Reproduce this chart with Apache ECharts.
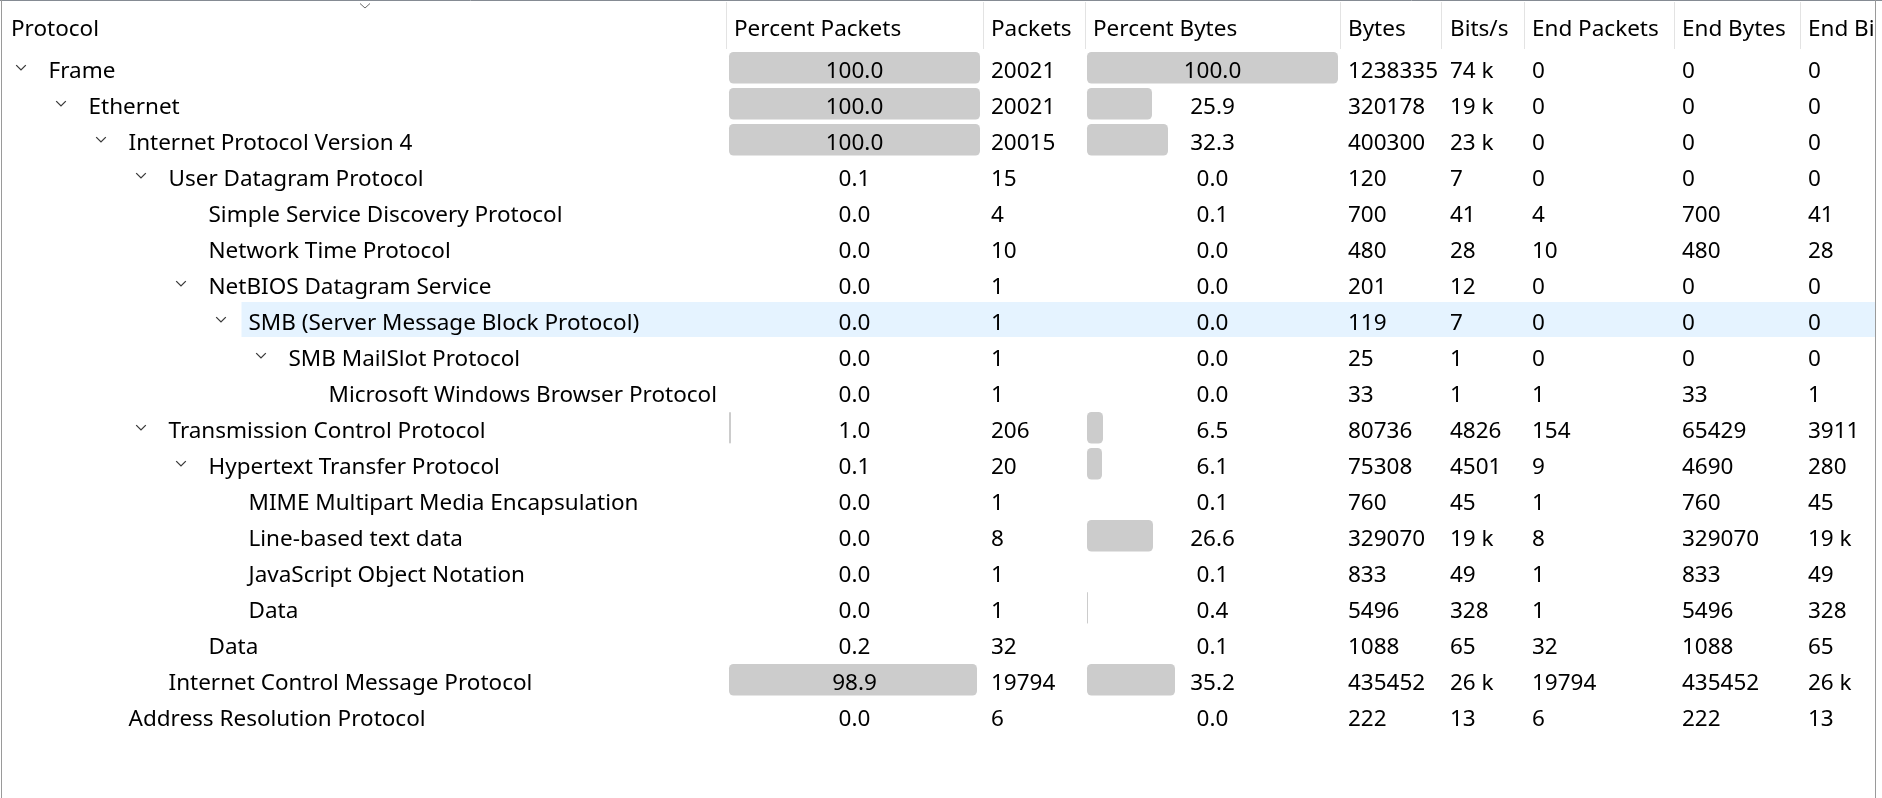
<!DOCTYPE html>
<html><head><meta charset="utf-8">
<script src="https://cdn.jsdelivr.net/npm/echarts@6/dist/echarts.min.js"></script>
</head>
<body style="margin:0;background:#fff"><div id="m" style="width:1882px;height:798px"></div>
<script>
// ---- data ----
const headers = ['Protocol','Percent Packets','Packets','Percent Bytes','Bytes','Bits/s','End Packets','End Bytes','End Bits/s'];
const protocols = ['Frame','Ethernet','Internet Protocol Version 4','User Datagram Protocol','Simple Service Discovery Protocol','Network Time Protocol','NetBIOS Datagram Service','SMB (Server Message Block Protocol)','SMB MailSlot Protocol','Microsoft Windows Browser Protocol','Transmission Control Protocol','Hypertext Transfer Protocol','MIME Multipart Media Encapsulation','Line-based text data','JavaScript Object Notation','Data','Data','Internet Control Message Protocol','Address Resolution Protocol'];
const levels = [0,1,2,3,4,4,4,5,6,7,3,4,5,5,5,5,4,3,2];
const expandable = [1,1,1,1,0,0,1,1,1,0,1,1,0,0,0,0,0,0,0];
const pctPackets = [100.0,100.0,100.0,0.1,0.0,0.0,0.0,0.0,0.0,0.0,1.0,0.1,0.0,0.0,0.0,0.0,0.2,98.9,0.0];
const packets = [20021,20021,20015,15,4,10,1,1,1,1,206,20,1,8,1,1,32,19794,6];
const pctBytes = [100.0,25.9,32.3,0.0,0.1,0.0,0.0,0.0,0.0,0.0,6.5,6.1,0.1,26.6,0.1,0.4,0.1,35.2,0.0];
const bytes = [1238335,320178,400300,120,700,480,201,119,25,33,80736,75308,760,329070,833,5496,1088,435452,222];
const bitsPerSec = ['74 k','19 k','23 k','7','41','28','12','7','1','1','4826','4501','45','19 k','49','328','65','26 k','13'];
const endPackets = [0,0,0,0,4,10,0,0,0,1,154,9,1,8,1,1,32,19794,6];
const endBytes = [0,0,0,0,700,480,0,0,0,33,65429,4690,760,329070,833,5496,1088,435452,222];
const endBits = ['0','0','0','0','41','28','0','0','0','1','3911','280','45','19 k','49','328','65','26 k','13'];
const hoverRow = 7;

// ---- layout ----
const W = 1882, TOP = 50, ROWH = 36, N = protocols.length;
const colX = [0, 726, 983, 1085, 1340, 1441, 1524, 1674, 1800];
const FONT = '22.5px "Noto Sans"';
const rowIdx = protocols.map((p, i) => String(i));

const chart = echarts.init(document.getElementById('m'), null, {renderer: 'canvas'});

function textEl(x, y, t, align) {
  return {type: 'text', style: {x: x, y: y, text: t, font: FONT, fill: '#000', textAlign: align || 'left', textVerticalAlign: 'middle'}};
}

function rowRender(params, api) {
  const i = params.dataIndex;
  const yc = api.coord([0, i])[1];
  const ty = yc + 4;
  const L = levels[i];
  const ch = [];
  if (expandable[i]) {
    const cx = 21 + 40 * L, cy = yc - 0.5;
    ch.push({type: 'polyline', shape: {points: [[cx - 4.8, cy - 2.4], [cx, cy + 2.4], [cx + 4.8, cy - 2.4]]},
      style: {stroke: '#3a3a3a', lineWidth: 1.3, fill: null}});
  }
  ch.push(textEl(48.5 + 40 * L, ty, protocols[i]));
  ch.push(textEl((colX[1] + colX[2]) / 2, ty, pctPackets[i].toFixed(1), 'center'));
  ch.push(textEl(colX[2] + 8, ty, String(packets[i])));
  ch.push(textEl((colX[3] + colX[4]) / 2, ty, pctBytes[i].toFixed(1), 'center'));
  ch.push(textEl(colX[4] + 8, ty, String(bytes[i])));
  ch.push(textEl(colX[5] + 9, ty, bitsPerSec[i]));
  ch.push(textEl(colX[6] + 8, ty, String(endPackets[i])));
  ch.push(textEl(colX[7] + 8, ty, String(endBytes[i])));
  ch.push(textEl(colX[8] + 8, ty, endBits[i]));
  return {type: 'group', children: ch};
}

function hoverRender(params, api) {
  const i = params.dataIndex;
  if (i !== hoverRow) return null;
  const yc = api.coord([0, i])[1];
  const x0 = 48.5 + 40 * levels[i] - 7;
  return {type: 'rect', shape: {x: x0, y: yc - ROWH / 2, width: 1875 - x0, height: ROWH - 1}, style: {fill: '#e5f3ff'}};
}

// percent bar drawn through the value axis; width snapped down to whole pixels like the original view
function barRender(params, api) {
  const v = api.value(0), i = api.value(1);
  const p0 = api.coord([0, i]);
  const w = Math.floor(api.size([v, 0])[0]);
  if (w < 1) return null;
  const h = 31.5;
  return {type: 'rect', shape: {x: p0[0], y: p0[1] - h / 2 - 0.3, width: w, height: h, r: Math.min(4.5, w / 2)}, style: {fill: '#cccccc'}};
}

const hiddenCat = {type: 'category', data: rowIdx, inverse: true, show: false};
const grids = [
  {left: 0, top: TOP, width: W, height: N * ROWH},
  {left: 729, top: TOP, width: 251, height: N * ROWH},
  {left: 1087, top: TOP, width: 251, height: N * ROWH}
];

const headerEls = [];
headers.forEach((h, k) => {
  headerEls.push({type: 'text', z: 10, style: {x: k === 0 ? 11 : colX[k] + (k === 5 ? 9 : 8), y: 29.5, text: h, font: FONT, fill: '#000', textVerticalAlign: 'middle'}});
});
colX.slice(1).forEach(x => {
  headerEls.push({type: 'line', z: 10, shape: {x1: x + 0.5, y1: 2, x2: x + 0.5, y2: 49}, style: {stroke: '#e3e3e3', lineWidth: 1}});
});
// clip of header overflow & frame
headerEls.push({type: 'rect', z: 20, shape: {x: 1873, y: 0, width: 9, height: 50}, style: {fill: '#fff'}});
headerEls.push({type: 'line', z: 30, shape: {x1: 0, y1: 0.5, x2: W, y2: 0.5}, style: {stroke: '#858b93', lineWidth: 1}});
headerEls.push({type: 'line', z: 30, shape: {x1: 1.5, y1: 0, x2: 1.5, y2: 798}, style: {stroke: '#9a9a9a', lineWidth: 1}});
headerEls.push({type: 'line', z: 30, shape: {x1: 1875.5, y1: 0, x2: 1875.5, y2: 798}, style: {stroke: '#9a9a9a', lineWidth: 1}});
headerEls.push({type: 'polyline', z: 30, shape: {points: [[360, 3.5], [365, 8], [370, 3.5]]}, style: {stroke: '#6a6a6a', lineWidth: 1, fill: null}});

chart.setOption({
  animation: false,
  backgroundColor: '#ffffff',
  grid: grids,
  xAxis: [
    {type: 'value', min: 0, max: W, show: false, gridIndex: 0},
    {type: 'value', min: 0, max: 100, show: false, gridIndex: 1},
    {type: 'value', min: 0, max: 100, show: false, gridIndex: 2}
  ],
  yAxis: [
    Object.assign({gridIndex: 0}, hiddenCat),
    Object.assign({gridIndex: 1}, hiddenCat),
    Object.assign({gridIndex: 2}, hiddenCat)
  ],
  series: [
    {type: 'custom', xAxisIndex: 0, yAxisIndex: 0, z: 0, silent: true, renderItem: hoverRender, data: rowIdx.map((r, i) => [0, i]), clip: false},
    {type: 'custom', name: 'Percent Packets', xAxisIndex: 1, yAxisIndex: 1, z: 2, silent: true, renderItem: barRender, data: pctPackets.map((v, i) => [v, i]), encode: {x: 0, y: 1}},
    {type: 'custom', name: 'Percent Bytes', xAxisIndex: 2, yAxisIndex: 2, z: 2, silent: true, renderItem: barRender, data: pctBytes.map((v, i) => [v, i]), encode: {x: 0, y: 1}},
    {type: 'custom', xAxisIndex: 0, yAxisIndex: 0, z: 5, silent: true, renderItem: rowRender, data: rowIdx.map((r, i) => [0, i]), clip: false}
  ],
  graphic: headerEls
});
</script></body></html>
